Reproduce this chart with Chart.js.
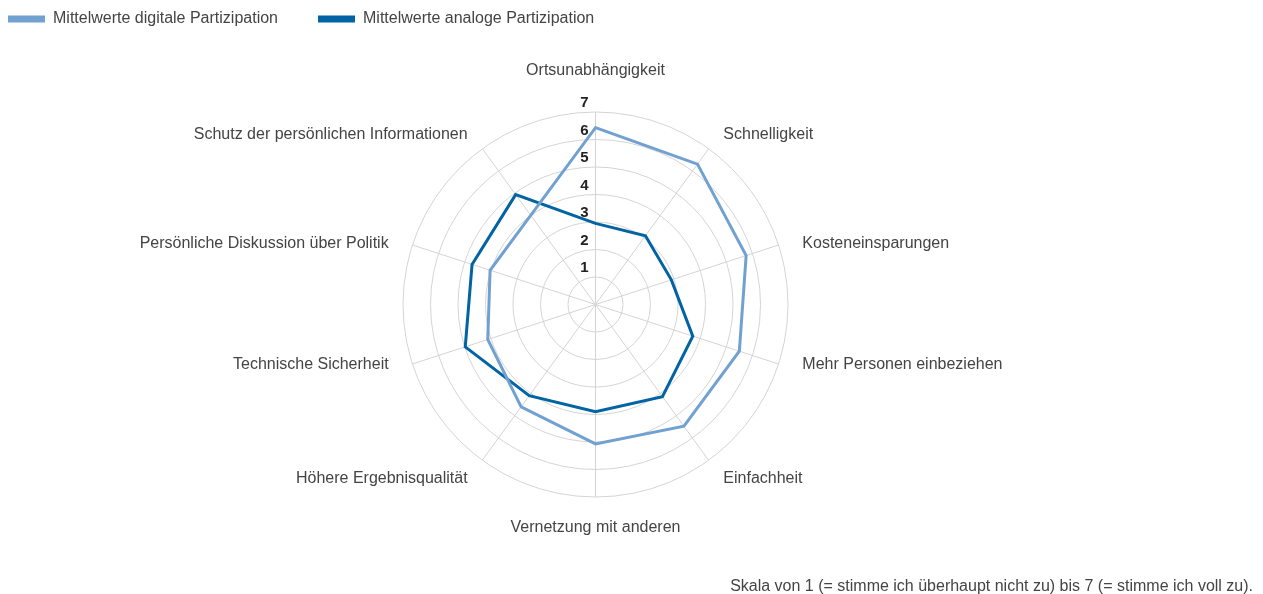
<!DOCTYPE html>
<html lang="de">
<head>
<meta charset="utf-8">
<title>Digitale und analoge Partizipation</title>
<script src="https://cdn.jsdelivr.net/npm/chart.js@4.4.0/dist/chart.umd.min.js"></script>
<style>
  body { margin: 0; background: #fff; }
  .chart-wrap { width: 1263px; height: 594px; }
</style>
</head>
<body>
<div class="chart-wrap"><canvas id="radarChart"></canvas></div>
<script>
// Data
const categories = [
  'Ortsunabhängigkeit',
  'Schnelligkeit',
  'Kosteneinsparungen',
  'Mehr Personen einbeziehen',
  'Einfachheit',
  'Vernetzung mit anderen',
  'Höhere Ergebnisqualität',
  'Technische Sicherheit',
  'Persönliche Diskussion über Politik',
  'Schutz der persönlichen Informationen'
];
const digitalValues = [6.43, 6.31, 5.76, 5.5, 5.47, 5.07, 4.6, 4.12, 4.03, 4.01];
const analogValues = [2.95, 3.09, 2.9, 3.72, 4.14, 3.9, 4.1, 4.98, 4.72, 4.94];
const tickLabels = [1, 2, 3, 4, 5, 6, 7];
const seriesNames = ['Mittelwerte digitale Partizipation', 'Mittelwerte analoge Partizipation'];
const footnote = 'Skala von 1 (= stimme ich überhaupt nicht zu) bis 7 (= stimme ich voll zu).';

const LIGHT = '#71a1d1';
const DARK = '#0063a3';
const FONT = '"Liberation Sans", Arial, Helvetica, sans-serif';

Chart.defaults.font.family = FONT;
Chart.defaults.color = '#444';

// scale numbers and category labels, placed off the radial scale
const radarText = {
  id: 'radarText',
  afterDatasetsDraw(chart) {
    const scale = chart.scales.r;
    const ctx = chart.ctx;
    const R = scale.drawingArea;
    ctx.save();
    ctx.textBaseline = 'middle';

    ctx.font = 'bold 15px ' + FONT;
    ctx.fillStyle = '#222';
    ctx.textAlign = 'center';
    tickLabels.forEach(v => {
      const p = scale.getPointPositionForValue(0, v);
      ctx.fillText(String(v), p.x - 11, p.y - 9);
    });

    ctx.font = '16px ' + FONT;
    ctx.fillStyle = '#444';
    categories.forEach((label, i) => {
      const p = scale.getPointPosition(i, R + 25);
      const sx = Math.cos(p.angle);
      const up = -Math.sin(p.angle);
      let y = p.y;
      if (Math.abs(sx) < 0.1) {
        ctx.textAlign = 'center';
        y += up > 0 ? -16 : 6;
      } else {
        ctx.textAlign = sx > 0 ? 'left' : 'right';
        y += up > 0 ? 6 : -10 - 10 * up;
      }
      ctx.fillText(label, p.x, y);
    });
    ctx.restore();
  }
};

new Chart(document.getElementById('radarChart'), {
  type: 'radar',
  data: {
    labels: categories,
    datasets: [{
      label: seriesNames[0],
      data: digitalValues,
      borderColor: LIGHT,
      backgroundColor: LIGHT,
      borderWidth: 3,
      pointRadius: 0,
      fill: false
    }, {
      label: seriesNames[1],
      data: analogValues,
      borderColor: DARK,
      backgroundColor: DARK,
      borderWidth: 3,
      pointRadius: 0,
      fill: false
    }]
  },
  options: {
    responsive: true,
    maintainAspectRatio: false,
    animation: false,
    layout: { padding: { left: -32, top: -29, right: 10, bottom: -2 } },
    scales: {
      r: {
        min: 0,
        max: 7,
        ticks: { stepSize: 1, display: false },
        grid: { color: '#d4d4d4', lineWidth: 1, circular: true },
        angleLines: { color: '#d4d4d4', lineWidth: 1 },
        pointLabels: { display: false },
        afterFit(scale) {
          scale.xCenter = 595.5;
          scale.yCenter = 304.5;
          scale.drawingArea = 192.5;
        }
      }
    },
    plugins: {
      legend: {
        position: 'top',
        align: 'start',
        labels: {
          boxWidth: 37,
          boxHeight: 7,
          padding: 40,
          color: '#444',
          font: { size: 16 },
          generateLabels(chart) {
            return chart.data.datasets.map((ds, i) => ({
              text: ds.label,
              fillStyle: ds.borderColor,
              strokeStyle: ds.borderColor,
              lineWidth: 0,
              fontColor: '#444',
              hidden: false,
              datasetIndex: i
            }));
          }
        }
      },
      subtitle: {
        display: true,
        text: footnote,
        position: 'bottom',
        align: 'end',
        color: '#444',
        font: { size: 16, weight: 'normal' },
        padding: 0
      },
      tooltip: { enabled: false }
    }
  },
  plugins: [radarText]
});
</script>
</body>
</html>
